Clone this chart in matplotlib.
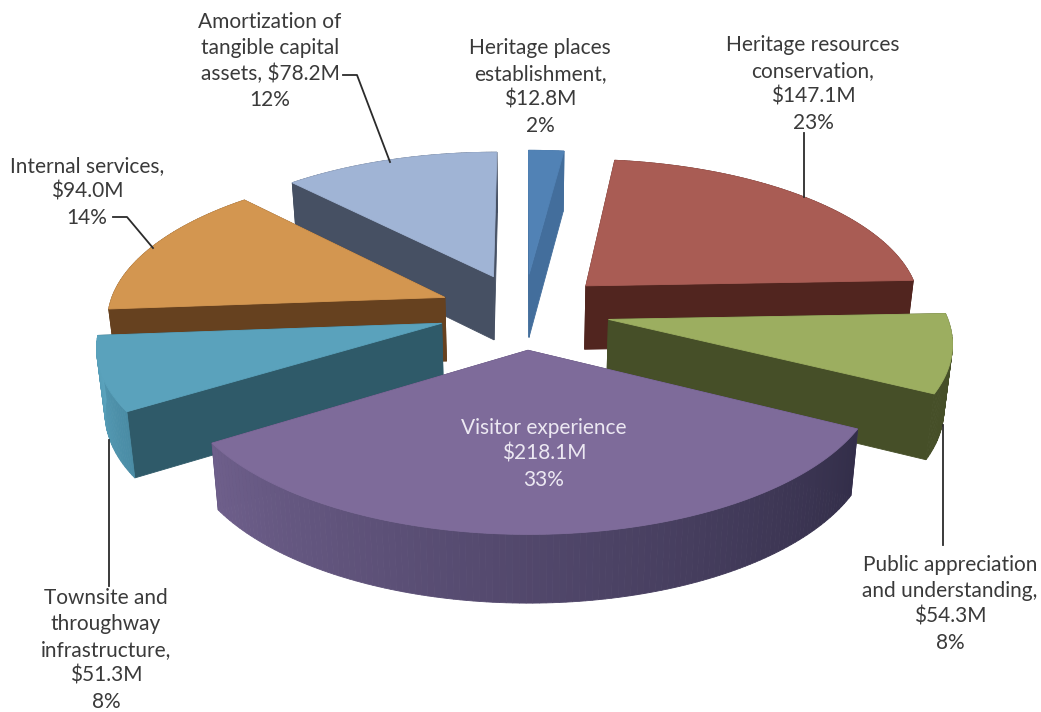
import numpy as np
import matplotlib
matplotlib.use("Agg")
import matplotlib.pyplot as plt
from matplotlib.patches import Polygon

# spending by program, clockwise from twelve o'clock
names = ["Heritage places\nestablishment,\n", "Heritage resources\nconservation,\n",
         "Public appreciation\nand understanding,\n", "Visitor experience\n",
         "Townsite and\nthroughway\ninfrastructure,\n", "Internal services,\n",
         "Amortization of\ntangible capital\nassets, "]
dollars = [12.8, 147.1, 54.3, 218.1, 51.3, 94.0, 78.2]
percents = [2, 23, 8, 33, 8, 14, 12]

top_colors = ["#5182b5", "#a95c54", "#9cae60", "#7e6b9a", "#5aa2bc", "#d39650", "#a0b4d5"]
radial_colors = ["#436e9c", "#51251f", "#464f28", "#4a3d66", "#2f5a69", "#66411f", "#465063"]
wall_left = ["#436e9c", "#51251f", "#464f28", "#6e5f8b", "#5aa2bc", "#66411f", "#465063"]
wall_right = ["#436e9c", "#51251f", "#464f28", "#332e49", "#4a8ca5", "#66411f", "#465063"]

# projection of the tilted disc onto the page (pixel units)
cx, cy = 524, 311
rx, ry = 337, 149
persp = 0.13
explode = 0.255
depth = 64
taper = 0.02  # verticals lean inward as they go down


def project(x, y, z=0.0):
    f = 1 / (1 + persp * y)
    return cx + x * f * rx * (1 - taper * z), cy - y * f * ry + z * depth * f ** 0.4


def poly(ax, pts, color, z):
    ax.add_patch(Polygon(pts, closed=True, fc=color, ec=color, lw=0.6, zorder=z))


fig = plt.figure(figsize=(10.41, 7.12), dpi=100)
ax = fig.add_axes([0, 0, 1, 1])
ax.set_xlim(0, 1041)
ax.set_ylim(712, 0)
ax.axis("off")

total = sum(dollars)
edges = np.concatenate([[0], np.cumsum(dollars)]) / total * 2 * np.pi
# back slices first so the front ones cover them
order = [0, 6, 1, 5, 2, 4, 3]

for rank, i in enumerate(order):
    a0, a1 = edges[i], edges[i + 1]
    mid = (a0 + a1) / 2
    ox, oy = explode * np.sin(mid), explode * np.cos(mid)
    ang = np.linspace(a0, a1, max(int((a1 - a0) * 60), 6))
    xs = ox + np.sin(ang)
    ys = oy + np.cos(ang)
    base = rank * 10

    for a in (a0, a1):
        ex, ey = ox + np.sin(a), oy + np.cos(a)
        poly(ax, [project(ox, oy), project(ex, ey), project(ex, ey, 1), project(ox, oy, 1)],
             radial_colors[i], base)

    c0 = np.array(matplotlib.colors.to_rgb(wall_left[i]))
    c1 = np.array(matplotlib.colors.to_rgb(wall_right[i]))
    for k in range(len(ang) - 1):
        t = 1 - k / (len(ang) - 2)
        col = c0 * (1 - t) + c1 * t
        poly(ax, [project(xs[k], ys[k]), project(xs[k + 1], ys[k + 1]),
                  project(xs[k + 1], ys[k + 1], 1), project(xs[k], ys[k], 1)], col, base + 1)

    face = [project(ox, oy)] + [project(x, y) for x, y in zip(xs, ys)]
    poly(ax, face, top_colors[i], base + 2)

# leader lines
leaders = [
    ([343, 357, 390], [75, 75, 162]),
    ([113, 127, 153], [217, 217, 248]),
    ([804, 804], [133, 197]),
    ([943, 943], [425, 545]),
    ([109, 109], [440, 586]),
]
for lx, ly in leaders:
    ax.plot(lx, ly, color="#2b2b2b", lw=1.3, zorder=200)

label_pos = [(540, 87), (813, 84), (950, 604), (544, 454), (106, 650), (87, 192), (270, 61)]
label_color = ["#3a3a3a", "#3a3a3a", "#3a3a3a", "#ece8f2", "#3a3a3a", "#3a3a3a", "#3a3a3a"]
for i, (tx, ty) in enumerate(label_pos):
    s = f"{names[i]}${dollars[i]:.1f}M\n{percents[i]}%"
    ax.text(tx, ty, s, ha="center", va="center", family="Lato", fontsize=15,
            linespacing=1.37, color=label_color[i], zorder=300)

fig.savefig("out.png", dpi=100)
